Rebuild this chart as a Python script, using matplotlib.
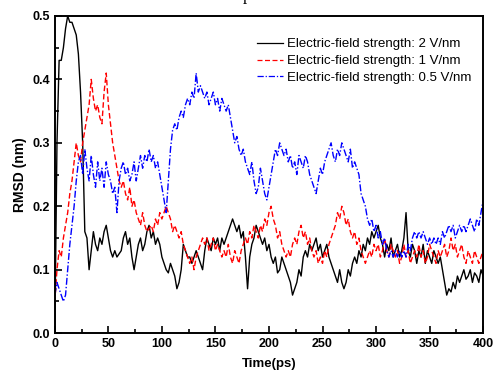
import numpy as np
import matplotlib
matplotlib.use('Agg')
import matplotlib.pyplot as plt
from matplotlib.ticker import MultipleLocator

plt.rcParams['font.family'] = ['Liberation Sans', 'DejaVu Sans']

# Czas symulacji (ps), krok 2 ps
time = np.arange(0, 401, 2)

# RMSD (nm) dla 2 V/nm
rmsd_2 = [
    0.00, 0.30, 0.43, 0.43, 0.45, 0.48, 0.50, 0.49, 0.49, 0.48,
    0.47, 0.44, 0.38, 0.30, 0.16, 0.15, 0.10, 0.13, 0.16, 0.14,
    0.13, 0.15, 0.14, 0.16, 0.17, 0.15, 0.13, 0.12, 0.13, 0.12,
    0.125, 0.13, 0.15, 0.16, 0.14, 0.15, 0.12, 0.10, 0.12, 0.14,
    0.15, 0.13, 0.14, 0.16, 0.17, 0.15, 0.16, 0.14, 0.15, 0.14,
    0.12, 0.11, 0.10, 0.095, 0.11, 0.10, 0.09, 0.07, 0.08, 0.10,
    0.14, 0.13, 0.12, 0.12, 0.11, 0.12, 0.13, 0.12, 0.11, 0.10,
    0.13, 0.15, 0.14, 0.13, 0.15, 0.14, 0.15, 0.13, 0.15, 0.14,
    0.15, 0.16, 0.17, 0.18, 0.17, 0.16, 0.17, 0.15, 0.16, 0.12,
    0.07, 0.12, 0.14, 0.15, 0.17, 0.16, 0.15, 0.14, 0.15, 0.13,
    0.14, 0.12, 0.11, 0.12, 0.095, 0.10, 0.12, 0.11, 0.10, 0.09,
    0.08, 0.06, 0.07, 0.08, 0.10, 0.09, 0.12, 0.13, 0.12, 0.14,
    0.13, 0.14, 0.15, 0.13, 0.14, 0.12, 0.13, 0.14, 0.12, 0.11,
    0.10, 0.09, 0.08, 0.10, 0.08, 0.07, 0.08, 0.10, 0.09, 0.11,
    0.12, 0.11, 0.13, 0.12, 0.14, 0.13, 0.15, 0.14, 0.16, 0.15,
    0.16, 0.17, 0.15, 0.14, 0.12, 0.14, 0.13, 0.15, 0.12, 0.13,
    0.14, 0.12, 0.13, 0.15, 0.19, 0.13, 0.12, 0.14, 0.13, 0.11,
    0.13, 0.12, 0.14, 0.11, 0.13, 0.12, 0.11, 0.13, 0.12, 0.11,
    0.12, 0.10, 0.08, 0.06, 0.07, 0.065, 0.08, 0.07, 0.09, 0.08,
    0.09, 0.10, 0.085, 0.09, 0.10, 0.08, 0.095, 0.09, 0.08, 0.10,
    0.09,
]

# RMSD (nm) dla 1 V/nm
rmsd_1 = [
    0.05, 0.10, 0.13, 0.12, 0.15, 0.17, 0.19, 0.22, 0.24, 0.27,
    0.30, 0.28, 0.27, 0.30, 0.32, 0.34, 0.36, 0.40, 0.37, 0.35,
    0.36, 0.34, 0.33, 0.38, 0.41, 0.36, 0.33, 0.30, 0.28, 0.26,
    0.24, 0.23, 0.24, 0.22, 0.21, 0.23, 0.20, 0.21, 0.19, 0.18,
    0.17, 0.19, 0.17, 0.16, 0.165, 0.17, 0.16, 0.18, 0.17, 0.19,
    0.18, 0.19, 0.20, 0.19, 0.18, 0.16, 0.17, 0.16, 0.15, 0.16,
    0.14, 0.13, 0.12, 0.11, 0.12, 0.10, 0.12, 0.13, 0.14, 0.15,
    0.14, 0.15, 0.13, 0.14, 0.15, 0.13, 0.14, 0.13, 0.12, 0.13,
    0.12, 0.14, 0.12, 0.11, 0.13, 0.12, 0.11, 0.13, 0.14, 0.15,
    0.14, 0.16, 0.15, 0.17, 0.16, 0.15, 0.17, 0.16, 0.18, 0.17,
    0.19, 0.20, 0.18, 0.17, 0.15, 0.16, 0.14, 0.13, 0.12, 0.13,
    0.12, 0.14, 0.15, 0.14, 0.16, 0.17, 0.15, 0.16, 0.14, 0.15,
    0.13, 0.12, 0.13, 0.11, 0.12, 0.11, 0.13, 0.12, 0.14, 0.15,
    0.16, 0.17, 0.19, 0.18, 0.20, 0.19, 0.17, 0.18, 0.16, 0.15,
    0.16, 0.14, 0.15, 0.13, 0.12, 0.11, 0.12, 0.13, 0.12, 0.14,
    0.13, 0.14, 0.12, 0.13, 0.15, 0.13, 0.12, 0.14, 0.13, 0.12,
    0.13, 0.11, 0.12, 0.14, 0.12, 0.13, 0.11, 0.12, 0.13, 0.12,
    0.14, 0.12, 0.13, 0.11, 0.12, 0.14, 0.13, 0.12, 0.11, 0.13,
    0.12, 0.13, 0.14, 0.12, 0.13, 0.15, 0.13, 0.14, 0.12, 0.13,
    0.14, 0.12, 0.11, 0.13, 0.12, 0.11, 0.13, 0.12, 0.11, 0.12,
    0.13,
]

# RMSD (nm) dla 0.5 V/nm
rmsd_05 = [
    0.06, 0.08, 0.07, 0.06, 0.05, 0.06, 0.10, 0.14, 0.17, 0.20,
    0.24, 0.27, 0.28, 0.25, 0.29, 0.26, 0.24, 0.28, 0.25, 0.23,
    0.27, 0.24, 0.26, 0.23, 0.27, 0.25, 0.24, 0.22, 0.23, 0.19,
    0.24, 0.26, 0.27, 0.25, 0.26, 0.24, 0.25, 0.27, 0.24, 0.26,
    0.28, 0.26, 0.28, 0.27, 0.29, 0.27, 0.28, 0.26, 0.27, 0.25,
    0.23, 0.21, 0.19, 0.24, 0.29, 0.32, 0.33, 0.32, 0.34, 0.35,
    0.34, 0.36, 0.37, 0.36, 0.38, 0.37, 0.41, 0.38, 0.39, 0.38,
    0.37, 0.38, 0.36, 0.37, 0.38, 0.36, 0.37, 0.35, 0.37, 0.36,
    0.35, 0.36, 0.34, 0.32, 0.30, 0.31, 0.29, 0.28, 0.29, 0.27,
    0.26, 0.25, 0.27, 0.24, 0.22, 0.23, 0.26, 0.24, 0.22, 0.21,
    0.23, 0.25, 0.27, 0.29, 0.28, 0.30, 0.29, 0.28, 0.29, 0.27,
    0.28, 0.26, 0.27, 0.25, 0.28, 0.27, 0.26, 0.28, 0.27, 0.25,
    0.24, 0.23, 0.22, 0.24, 0.26, 0.25, 0.27, 0.28, 0.29, 0.30,
    0.28, 0.27, 0.29, 0.28, 0.30, 0.29, 0.28, 0.27, 0.29, 0.26,
    0.27, 0.26, 0.25, 0.22, 0.21, 0.20, 0.18, 0.17, 0.18, 0.16,
    0.17, 0.15, 0.16, 0.14, 0.15, 0.13, 0.12, 0.13, 0.12, 0.13,
    0.12, 0.13, 0.12, 0.13, 0.12, 0.14, 0.13, 0.15, 0.16, 0.15,
    0.16, 0.15, 0.16, 0.15, 0.14, 0.15, 0.14, 0.15, 0.14, 0.15,
    0.14, 0.16, 0.15, 0.16, 0.17, 0.16, 0.17, 0.15, 0.16, 0.17,
    0.16, 0.17, 0.16, 0.17, 0.18, 0.17, 0.16, 0.18, 0.17, 0.19,
    0.21,
]

labels = ['Electric-field strength: 2 V/nm',
          'Electric-field strength: 1 V/nm',
          'Electric-field strength: 0.5 V/nm']

fig = plt.figure(figsize=(4.94, 3.71), dpi=100)
ax = fig.add_axes([0.111, 0.102, 0.867, 0.855])

ax.plot(time, rmsd_2, color='black', lw=1.0, ls='-', label=labels[0])
ax.plot(time, rmsd_1, color='red', lw=1.0, ls=(0, (4, 2)), label=labels[1])
ax.plot(time, rmsd_05, color='blue', lw=1.0, ls=(0, (5, 1.5, 1, 1.5)), label=labels[2])

ax.set_xlim(0, 400)
ax.set_ylim(0, 0.5)
ax.xaxis.set_major_locator(MultipleLocator(50))
ax.xaxis.set_minor_locator(MultipleLocator(25))
ax.yaxis.set_major_locator(MultipleLocator(0.1))
ax.yaxis.set_minor_locator(MultipleLocator(0.05))
ax.tick_params(which='both', direction='in', width=1.2, labelsize=9)
ax.tick_params(which='major', length=5)
ax.tick_params(which='minor', length=3)
for lab in ax.get_xticklabels() + ax.get_yticklabels():
    lab.set_fontweight('bold')
for s in ax.spines.values():
    s.set_linewidth(1.4)

ax.set_xlabel('Time(ps)', fontsize=9.5, fontweight='bold', labelpad=6)
ax.set_ylabel('RMSD (nm)', fontsize=10, fontweight='bold', labelpad=4)

leg = ax.legend(loc='upper right', frameon=False, fontsize=9.5, handlelength=2.0,
                handletextpad=0.3, labelspacing=0.35, borderaxespad=0,
                bbox_to_anchor=(0.985, 0.947))
for h in leg.get_lines():
    h.set_linewidth(0.9)

# urwany fragment podpisu nad wykresem
fig.text(0.5, 1.0, 'p', fontsize=12, family='Liberation Serif', ha='center', va='baseline')

plt.savefig('out.png')
